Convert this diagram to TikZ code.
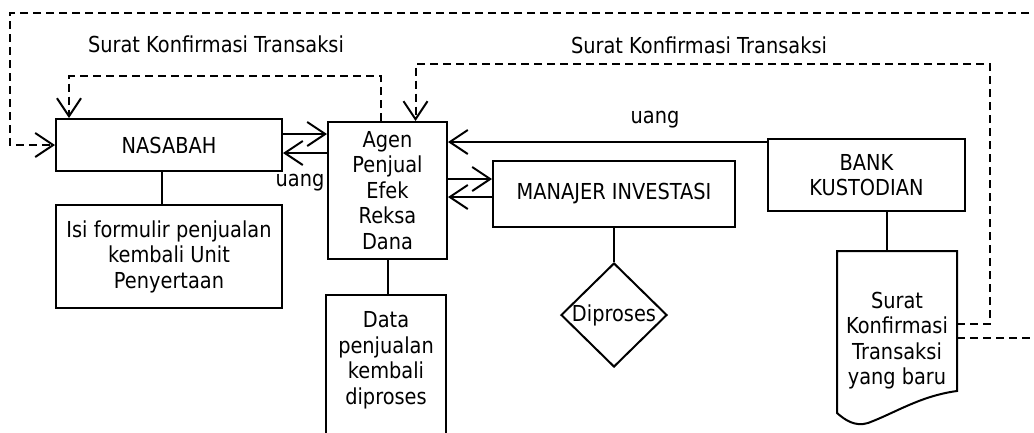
\documentclass[tikz,border=0pt]{standalone}
\usepackage{fontspec}
\setmainfont[FakeStretch=0.88]{DejaVu Sans}
\usetikzlibrary{arrows.meta,shapes.geometric}

\begin{document}
\begin{tikzpicture}[x=1pt,y=-1pt,
  every node/.style={font=\fontsize{22}{25.5}\selectfont},
  kotak/.style={draw,line width=2pt,align=center,inner sep=0pt},
  garis/.style={line width=2pt},
  panah/.style={line width=2pt,-{Straight Barb[length=18pt,width=24pt]}},
  putus/.style={dash pattern=on 8pt off 5pt}]
\useasboundingbox (0,0) rectangle (1034,432);
\clip (0,0) rectangle (1034,432);

% kotak-kotak
\node[kotak,minimum width=226pt,minimum height=52pt] (nasabah) at (169,145) {NASABAH};
\node[kotak,minimum width=226pt,minimum height=103pt] (isi) at (169,256.5) {Isi formulir penjualan\\kembali Unit\\Penyertaan};
\node[kotak,minimum width=119pt,minimum height=137pt] (agen) at (387.5,190.5) {Agen\\Penjual\\Efek\\Reksa\\Dana};
\node[kotak,minimum width=120pt,minimum height=185pt,anchor=north] (data) at (386,294) {Data\\penjualan\\kembali\\diproses\\\strut\\\strut};
\node[kotak,minimum width=242pt,minimum height=66pt] (manajer) at (614,194) {MANAJER INVESTASI};
\node[draw,diamond,garis,minimum width=106pt,minimum height=104pt,inner sep=0pt,label=center:Diproses] (proses) at (614,315) {};
\node[kotak,minimum width=197pt,minimum height=72pt] (bank) at (866.5,175) {BANK\\KUSTODIAN};

% dokumen
\draw[garis] (837,251) -- (957,251) -- (957,391) .. controls (920,396) and (895,413) .. (868,423) .. controls (855,427) and (845,420) .. (837,413) -- cycle;
\node[align=center] (surat) at (897,340.5) {Surat\\Konfirmasi\\Transaksi\\yang baru};
\coordinate (atas) at (887,251);
\coordinate (k1) at (957,324);
\coordinate (k2) at (957,338);

% keterangan
\node (judul1) at (216,44) {Surat Konfirmasi Transaksi};
\node (judul2) at (699,45) {Surat Konfirmasi Transaksi};
\node (uang1) at (300,183) {uang};
\node (uang2) at (655,120) {uang};

% panah
\draw[panah] ([yshift=11pt]nasabah.east) -- ([yshift=11pt]nasabah.east -| agen.west);
\draw[panah] ([yshift=-8pt]nasabah.east -| agen.west) -- ([yshift=-8pt]nasabah.east);
\draw[panah] ([yshift=15pt]manajer.west -| agen.east) -- ([yshift=15pt]manajer.west);
\draw[panah] ([yshift=-3pt]manajer.west) -- ([yshift=-3pt]manajer.west -| agen.east);
\draw[panah] ([yshift=-4pt]bank.north west) -- ([yshift=-4pt]bank.north west -| agen.east);

% garis
\draw[garis] ([xshift=-7pt]nasabah.south) -- ([xshift=-7pt]isi.north);
\draw[garis] (agen.south) -- (agen.south |- data.north);
\draw[garis] (manajer) -- (proses);
\draw[garis] (bank.south -| atas) -- (atas);

% garis putus-putus
\draw[panah,putus] ([xshift=-7pt]agen.north) -- ++(0,-45) -| ([xshift=14pt]nasabah.north west);
\draw[panah,putus] (k1) -| (990,64) -| ([xshift=28pt]agen.north);
\draw[panah,putus] (k2) -- (1045,338) |- (10,13) |- (nasabah.west);
\end{tikzpicture}
\end{document}
